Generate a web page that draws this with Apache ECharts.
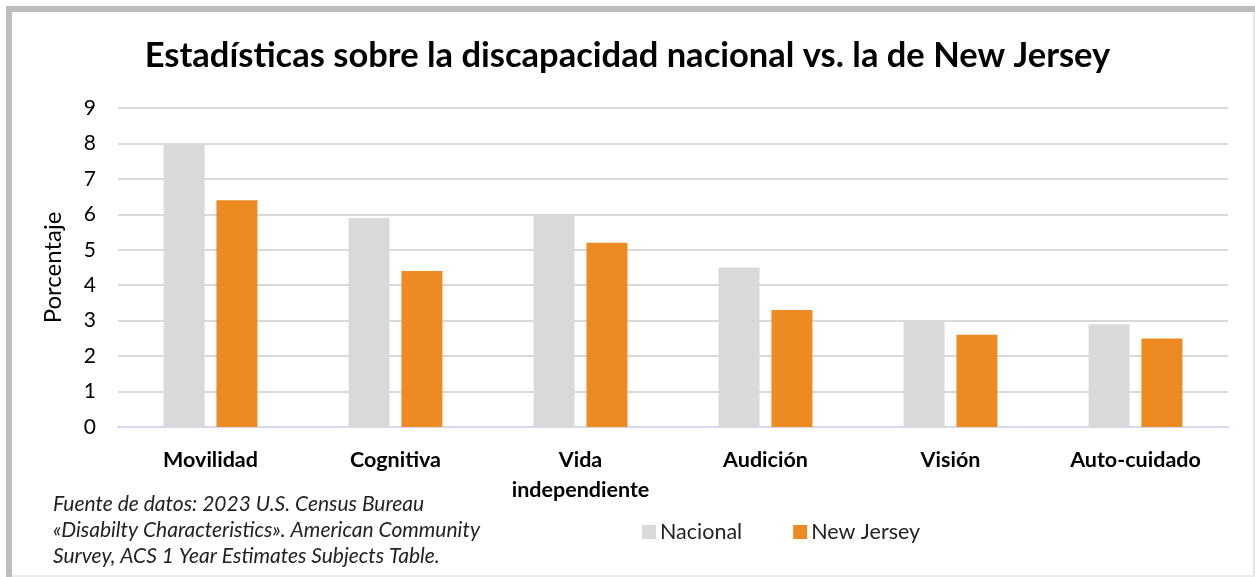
<!DOCTYPE html>
<html>
<head>
<meta charset="utf-8">
<script src="https://cdn.jsdelivr.net/npm/echarts@6/dist/echarts.min.js"></script>
<style>
html,body{margin:0;padding:0;background:#fff;}
#c{width:1255px;height:577px;}
</style>
</head>
<body>
<div id="c"></div>
<script>
const categories = ['Movilidad', 'Cognitiva', 'Vida\nindependiente', 'Audición', 'Visión', 'Auto-cuidado'];
const nacional = [8.0, 5.9, 6.0, 4.5, 3.0, 2.9];
const newJersey = [6.4, 4.4, 5.2, 3.3, 2.6, 2.5];
const seriesNames = ['Nacional', 'New Jersey'];
const titleText = 'Estadísticas sobre la discapacidad nacional vs. la de New Jersey';
const sourceLines = [
  'Fuente de datos: 2023 U.S. Census Bureau',
  '«Disabilty Characteristics». American Community',
  'Survey, ACS 1 Year Estimates Subjects Table.'
];

const chart = echarts.init(document.getElementById('c'), null, {renderer: 'canvas'});
const font = 'Lato, "Open Sans", sans-serif';
chart.setOption({
  backgroundColor: '#fff',
  animation: false,
  title: {
    text: titleText,
    left: 'center',
    top: 33,
    textStyle: {fontFamily: font, fontWeight: 'bold', fontSize: 34.5, color: '#000'}
  },
  legend: {
    data: seriesNames,
    left: 637,
    top: 516,
    itemWidth: 14,
    itemHeight: 14,
    itemGap: 51,
    icon: 'rect',
    textStyle: {fontFamily: font, fontSize: 21.5, color: '#222', padding: [0,0,0,-1]}
  },
  grid: {left: 118, right: 27, top: 108, bottom: 150, containLabel: false},
  xAxis: {
    type: 'category',
    data: categories,
    axisLine: {lineStyle: {color: '#d6d9ec', width: 2}},
    axisTick: {show: false},
    axisLabel: {fontFamily: font, fontWeight: 'bold', fontSize: 21.5, color: '#000', margin: 18, lineHeight: 30}
  },
  yAxis: {
    type: 'value',
    min: 0, max: 9, interval: 1,
    name: 'Porcentaje',
    nameLocation: 'middle',
    nameGap: 53,
    nameTextStyle: {fontFamily: font, fontSize: 24, color: '#000'},
    axisLine: {show: false},
    axisTick: {show: false},
    axisLabel: {fontFamily: font, fontSize: 21, color: '#000', margin: 22},
    splitLine: {lineStyle: {color: '#d9d9d9', width: 2}}
  },
  series: [
    {name: seriesNames[0], type: 'bar', data: nacional, barWidth: 41, barGap: '29%',
     itemStyle: {color: '#d9d9d9'}},
    {name: seriesNames[1], type: 'bar', data: newJersey, barWidth: 41,
     itemStyle: {color: '#ed8a21'}}
  ],
  graphic: [
    {type: 'rect', shape: {x: 6, y: 6, width: 1249, height: 6}, style: {fill: '#bdbdbd'}},
    {type: 'rect', shape: {x: 6, y: 6, width: 6, height: 571}, style: {fill: '#bdbdbd'}},
    {type: 'rect', shape: {x: 1253, y: 12, width: 2, height: 565}, style: {fill: '#e3e3e3'}},
    {type: 'rect', shape: {x: 12, y: 575, width: 1243, height: 2}, style: {fill: '#ececec'}},
    {type: 'text', left: 53, top: 491,
     style: {text: sourceLines.join('\n'), fontFamily: font, fontStyle: 'italic', fontSize: 21, lineHeight: 26, fill: '#222'}}
  ]
});
</script>
</body>
</html>
